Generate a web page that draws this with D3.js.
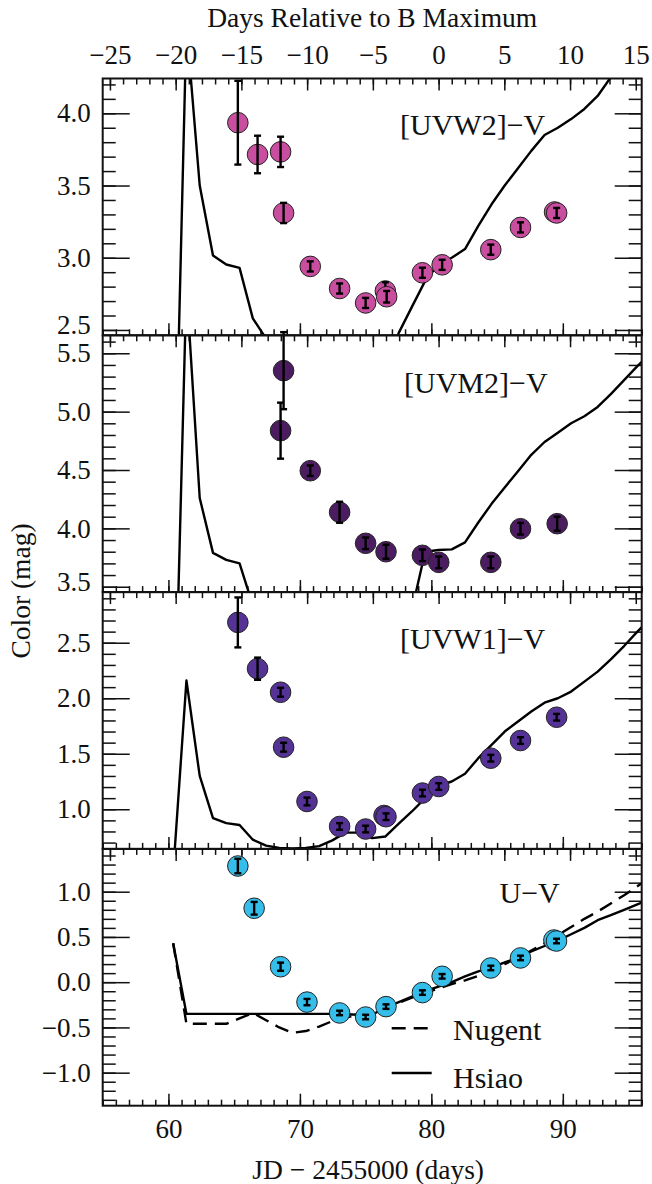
<!DOCTYPE html>
<html><head><meta charset="utf-8">
<script src="https://cdn.jsdelivr.net/npm/d3@7"></script>
<style>html,body{margin:0;padding:0;background:#fff}svg{display:block}</style>
</head><body>
<script>
// ---------------- DATA ----------------
const topTicks = [-25, -20, -15, -10, -5, 0, 5, 10, 15];
const bottomTicks = [60, 70, 80, 90];
const bMaxJD = 80.55;

const panelNames = ["[UVW2]\u2212V", "[UVM2]\u2212V", "[UVW1]\u2212V", "U\u2212V"];
const panelColors = ["#CA4E9F", "#4B1D60", "#553396", "#36BEEB"];
const yDomains = [[2.463, 4.241], [3.454, 5.654], [0.643, 2.956], [-1.365, 1.473]];
const yMajorTicks = [[2.5, 3.0, 3.5, 4.0], [3.5, 4.0, 4.5, 5.0, 5.5], [1.0, 1.5, 2.0, 2.5], [-1.0, -0.5, 0.0, 0.5, 1.0]];

// observed colours (JD - 2455000, colour, error)
const uvw2JD  = [65.28, 66.78, 68.53, 68.76, 70.79, 73.02, 75.0, 76.5, 76.6, 79.32, 80.82, 84.52, 86.78, 89.37, 89.53];
const uvw2Val = [3.935, 3.715, 3.733, 3.31, 2.94, 2.787, 2.687, 2.77, 2.73, 2.896, 2.951, 3.056, 3.21, 3.317, 3.31];
const uvw2Err = [0.29, 0.13, 0.105, 0.07, 0.035, 0.035, 0.035, 0.06, 0.04, 0.035, 0.035, 0.035, 0.035, 0.04, 0.035];

const uvm2JD  = [68.53, 68.76, 70.79, 73.02, 75.0, 76.55, 79.32, 80.56, 84.52, 86.78, 89.57];
const uvm2Val = [4.837, 5.351, 4.494, 4.138, 3.872, 3.80, 3.769, 3.709, 3.709, 3.997, 4.04];
const uvm2Err = [0.24, 0.33, 0.045, 0.09, 0.05, 0.06, 0.05, 0.05, 0.05, 0.05, 0.06];

const uvw1JD  = [65.28, 66.78, 68.53, 68.76, 70.54, 73.02, 75.0, 76.4, 76.55, 79.32, 80.56, 84.52, 86.78, 89.53];
const uvw1Val = [2.683, 2.266, 2.054, 1.559, 1.07, 0.845, 0.822, 0.944, 0.933, 1.146, 1.205, 1.46, 1.619, 1.829];
const uvw1Err = [0.225, 0.1, 0.04, 0.04, 0.035, 0.03, 0.03, 0.035, 0.03, 0.03, 0.03, 0.03, 0.03, 0.03];

const uvJD  = [65.28, 66.52, 68.53, 70.54, 73.02, 75.0, 76.55, 79.32, 80.82, 84.52, 86.78, 89.32, 89.52];
const uvVal = [1.284, 0.817, 0.171, -0.22, -0.34, -0.385, -0.27, -0.115, 0.065, 0.157, 0.268, 0.466, 0.455];
const uvErr = [0.08, 0.07, 0.045, 0.035, 0.025, 0.025, 0.025, 0.025, 0.025, 0.025, 0.025, 0.025, 0.025];

// template epochs (JD - 2455000)
const modelJD = [60.36, 61.37, 62.38, 63.39, 64.40, 65.41, 66.42, 67.43, 68.43, 69.44, 70.45, 71.46, 72.47, 73.48, 74.49, 75.50, 76.51, 77.52, 78.52, 79.53, 80.54, 81.55, 82.56, 83.57, 84.58, 85.58, 86.59, 87.60, 88.61, 89.62, 90.63, 91.64, 92.65, 93.65, 94.66, 95.67, 96.68];
const hsiaoUVW2 = [0.85, 4.61, 3.50, 3.016, 2.953, 2.93, 2.58, 2.44, 2.35, 2.28, 2.22, 2.18, 2.15, 2.14, 2.14, 2.16, 2.22, 2.48, 2.66, 2.84, 2.955, 3.0, 3.06, 3.22, 3.37, 3.5, 3.62, 3.74, 3.85, 3.90, 3.96, 4.03, 4.12, 4.25, 4.4, 4.55, 4.7];
const hsiaoUVM2 = [1.74, 6.08, 4.26, 3.79, 3.73, 3.70, 3.34, 3.1, 2.95, 2.85, 2.78, 2.74, 2.72, 2.72, 2.74, 2.78, 2.86, 3.0, 3.30, 3.80, 3.815, 3.82, 3.88, 4.05, 4.21, 4.35, 4.49, 4.63, 4.74, 4.82, 4.90, 4.96, 5.04, 5.15, 5.27, 5.39, 5.5];
const hsiaoUVW1 = [0.43, 2.16, 1.30, 0.92, 0.875, 0.858, 0.726, 0.672, 0.651, 0.648, 0.652, 0.668, 0.72, 0.79, 0.79, 0.74, 0.755, 0.87, 0.98, 1.10, 1.21, 1.25, 1.32, 1.46, 1.58, 1.70, 1.79, 1.88, 1.96, 2.0, 2.06, 2.15, 2.24, 2.35, 2.47, 2.60, 2.72];
const hsiaoUV = [0.43, -0.35, -0.35, -0.35, -0.35, -0.35, -0.35, -0.35, -0.35, -0.35, -0.35, -0.35, -0.35, -0.355, -0.36, -0.36, -0.28, -0.22, -0.16, -0.10, -0.05, 0.0, 0.065, 0.12, 0.16, 0.22, 0.27, 0.34, 0.40, 0.46, 0.53, 0.60, 0.685, 0.74, 0.80, 0.86, 0.92];
const nugentUV = [0.43, -0.46, -0.46, -0.46, -0.46, -0.40, -0.34, -0.42, -0.50, -0.56, -0.54, -0.49, -0.43, -0.39, -0.36, -0.33, -0.29, -0.23, -0.17, -0.12, -0.07, -0.02, 0.02, 0.07, 0.13, 0.20, 0.27, 0.35, 0.43, 0.52, 0.61, 0.70, 0.78, 0.87, 0.96, 1.06, 1.16];

const legendLabels = ["Nugent", "Hsiao"];

// ---------------- LAYOUT ----------------
const W = 652, H = 1184;
const L = 102.7, R = 641.7, T = 78.5, B = 1105.7;
const ph = (B - T) / 4;
const FONT = "'Liberation Serif','Times New Roman',serif";
const TICKFS = 27;

const svg = d3.select("body").append("svg").attr("width", W).attr("height", H)
  .style("font-family", FONT);

const x = d3.scaleLinear().domain([55, 96]).range([L, R]);
const xTop = d3.scaleLinear().domain([55 - bMaxJD, 96 - bMaxJD]).range([L, R]);

const panels = [
  {jd: uvw2JD, val: uvw2Val, err: uvw2Err, models: [{v: hsiaoUVW2, dash: null}], label: [400, 56.5]},
  {jd: uvm2JD, val: uvm2Val, err: uvm2Err, models: [{v: hsiaoUVM2, dash: null}], label: [404, 58]},
  {jd: uvw1JD, val: uvw1Val, err: uvw1Err, models: [{v: hsiaoUVW1, dash: null}], label: [400, 57]},
  {jd: uvJD, val: uvVal, err: uvErr, models: [{v: nugentUV, dash: "14,8"}, {v: hsiaoUV, dash: null}], label: [499.5, 54.5]}
];

const minorX = d3.range(55, 97, 1);
const minorXTop = d3.range(-25, 16, 1);
function fmtY(d) { return d3.format(".1f")(d).replace("-", "\u2212"); }

panels.forEach((p, i) => {
  const top = T + i * ph, bot = top + ph;
  const y = d3.scaleLinear().domain(yDomains[i]).range([bot, top]);
  const g = svg.append("g");

  const clipId = "clip" + i;
  svg.append("clipPath").attr("id", clipId).append("rect")
    .attr("x", L).attr("y", top).attr("width", R - L).attr("height", ph);

  // y ticks
  const d0 = yDomains[i][0], d1 = yDomains[i][1];
  const minorY = d3.range(Math.ceil(d0 * 10), Math.floor(d1 * 10) + 1).map(v => v / 10);
  g.append("g").attr("transform", `translate(${L},0)`)
    .call(d3.axisLeft(y).tickValues(minorY).tickSize(-13).tickFormat(""));
  g.append("g").attr("transform", `translate(${R},0)`)
    .call(d3.axisRight(y).tickValues(minorY).tickSize(-13).tickFormat(""));
  const ylM = g.append("g").attr("transform", `translate(${L},0)`)
    .call(d3.axisLeft(y).tickValues(yMajorTicks[i]).tickSize(-27).tickPadding(12).tickFormat(fmtY));
  g.append("g").attr("transform", `translate(${R},0)`)
    .call(d3.axisRight(y).tickValues(yMajorTicks[i]).tickSize(-27).tickFormat(""));
  // keep labels inside the panel's vertical band
  ylM.selectAll(".tick").each(function(d) {
    const ty = y(d);
    const shift = Math.min(0, (bot - 10) - ty);
    d3.select(this).select("text").attr("dy", "0.32em").attr("y", shift);
  });

  // x ticks (top and bottom of every panel)
  g.append("g").attr("transform", `translate(0,${bot})`)
    .call(d3.axisBottom(x).tickValues(minorX).tickSize(-6).tickFormat(""));
  g.append("g").attr("transform", `translate(0,${bot})`)
    .call(d3.axisBottom(x).tickValues(bottomTicks).tickSize(-12).tickPadding(13)
      .tickFormat(i === 3 ? d3.format("d") : ""));
  g.append("g").attr("transform", `translate(0,${top})`)
    .call(d3.axisTop(xTop).tickValues(minorXTop).tickSize(-6).tickFormat(""));
  g.append("g").attr("transform", `translate(0,${top})`)
    .call(d3.axisTop(xTop).tickValues(topTicks).tickSize(-12).tickPadding(15)
      .tickFormat(i === 0 ? (d => String(d).replace("-", "\u2212")) : ""));

  g.selectAll(".domain").remove();
  g.selectAll(".tick line").attr("stroke", "#111").attr("stroke-width", 1.5);
  g.selectAll(".tick text").attr("font-size", TICKFS).attr("fill", "#111").style("font-family", FONT);

  // model curves
  const line = d3.line().x((d, k) => x(modelJD[k])).y(d => y(d));
  p.models.forEach(m => {
    svg.append("path").datum(m.v)
      .attr("clip-path", `url(#${clipId})`)
      .attr("d", line)
      .attr("fill", "none").attr("stroke", "#000").attr("stroke-width", 2.4)
      .attr("stroke-linejoin", "round")
      .attr("stroke-dasharray", m.dash);
  });

  // data points
  const pts = svg.append("g");
  p.jd.forEach((jd, k) => {
    const cx = x(jd), cy = y(p.val[k]);
    const y1 = y(p.val[k] + p.err[k]), y2 = y(p.val[k] - p.err[k]);
    pts.append("circle").attr("cx", cx).attr("cy", cy).attr("r", 10.3)
      .attr("fill", panelColors[i]).attr("stroke", "#222").attr("stroke-width", 1);
    pts.append("line").attr("x1", cx).attr("x2", cx).attr("y1", y1).attr("y2", y2)
      .attr("stroke", "#000").attr("stroke-width", 2.4);
    [y1, y2].forEach(yy => pts.append("line").attr("x1", cx - 3.5).attr("x2", cx + 3.5)
      .attr("y1", yy).attr("y2", yy).attr("stroke", "#000").attr("stroke-width", 2.4));
  });

  // frame
  svg.append("rect").attr("x", L).attr("y", top).attr("width", R - L).attr("height", ph)
    .attr("fill", "none").attr("stroke", "#111").attr("stroke-width", 2);

  // panel label
  svg.append("text").attr("x", p.label[0]).attr("y", top + p.label[1])
    .attr("font-size", 30).attr("fill", "#111").text(panelNames[i]);

  if (i === 3) {
    // legend
    const ly = [1028.3, 1073];
    const ty = [1040, 1088];
    const dashes = ["14,8", null];
    legendLabels.forEach((lab, j) => {
      svg.append("line").attr("x1", 391.7).attr("x2", 431.7).attr("y1", ly[j]).attr("y2", ly[j])
        .attr("stroke", "#000").attr("stroke-width", 2.4).attr("stroke-dasharray", dashes[j]);
      svg.append("text").attr("x", 453).attr("y", ty[j]).attr("font-size", 30).attr("fill", "#111").text(lab);
    });
  }
});

// axis titles
svg.append("text").attr("x", (L + R) / 2).attr("y", 27).attr("text-anchor", "middle")
  .attr("font-size", 27.5).attr("fill", "#111").text("Days Relative to B Maximum");
svg.append("text").attr("x", (L + R) / 2 - 4).attr("y", 1179).attr("text-anchor", "middle")
  .attr("font-size", 27.5).attr("fill", "#111").text("JD \u2212 2455000 (days)");
svg.append("text").attr("transform", "translate(30,591) rotate(-90)").attr("text-anchor", "middle")
  .attr("font-size", 27.5).attr("fill", "#111").text("Color (mag)");
</script>
</body></html>
